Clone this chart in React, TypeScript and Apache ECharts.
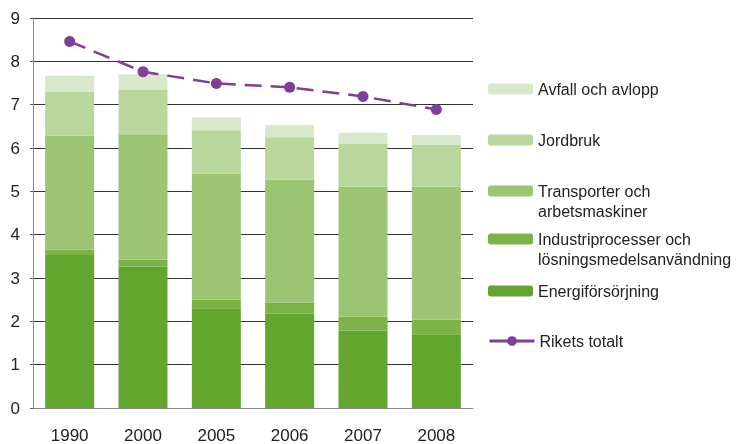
import React, { useEffect, useRef } from "react";
import * as echarts from "echarts";

const years = ["1990", "2000", "2005", "2006", "2007", "2008"];
const energi = [3.53, 3.26, 2.3, 2.18, 1.79, 1.7];
const industri = [0.12, 0.16, 0.2, 0.25, 0.32, 0.34];
const transport = [2.63, 2.9, 2.91, 2.84, 3.0, 3.07];
const jordbruk = [1.01, 1.02, 1.0, 0.98, 0.98, 0.96];
const avfall = [0.38, 0.36, 0.3, 0.28, 0.26, 0.23];
const totalt = [8.46, 7.76, 7.49, 7.4, 7.19, 6.89];

const names = {
  avfall: "Avfall och avlopp",
  jordbruk: "Jordbruk",
  transport: "Transporter och\narbetsmaskiner",
  industri: "Industriprocesser och\nlösningsmedelsanvändning",
  energi: "Energiförsörjning",
  totalt: "Rikets totalt",
};

const FONT = "'Liberation Sans', Arial, sans-serif";

export default function App() {
  const ref = useRef<HTMLDivElement>(null);
  useEffect(() => {
    if (!ref.current) return;
    const chart = echarts.init(ref.current, undefined, { renderer: "svg" });
    const bar = (name: string, data: number[], color: string) => ({
      type: "bar",
      name,
      stack: "s",
      data,
      barWidth: 49,
      itemStyle: { color },
    });
    const legendItem = (name: string, centerY: number, twoLine: boolean, extra: any = {}) => ({
      show: true,
      data: [name],
      left: 488,
      top: twoLine ? centerY - 30 : centerY - 10,
      padding: 0,
      itemWidth: 45,
      itemHeight: 11,
      itemGap: 0,
      selectedMode: false,
      formatter: twoLine ? (n: string) => "\n" + n : undefined,
      textStyle: {
        fontFamily: FONT,
        fontSize: 16,
        lineHeight: 20,
        color: "#222",
      },
      ...extra,
    });
    chart.setOption({
      animation: false,
      textStyle: { fontFamily: FONT },
      grid: { left: 33, right: 263, top: 18, bottom: 33, containLabel: false },
      legend: [
        legendItem(names.avfall, 89, false),
        legendItem(names.jordbruk, 140, false),
        legendItem(names.transport, 191, true),
        legendItem(names.industri, 239, true),
        legendItem(names.energi, 291, false),
        legendItem(names.totalt, 341, false, {
          itemHeight: 12,
          lineStyle: { type: "solid", width: 3 },
        }),
      ],
      xAxis: {
        type: "category",
        data: years,
        axisTick: { show: false },
        axisLine: { lineStyle: { color: "#888", width: 1 } },
        axisLabel: { fontSize: 17, color: "#222", margin: 19, fontFamily: FONT },
      },
      yAxis: {
        type: "value",
        min: 0,
        max: 9,
        interval: 1,
        axisLine: { show: true, lineStyle: { color: "#888", width: 1 } },
        axisTick: { show: true, length: 3, lineStyle: { color: "#555" } },
        splitLine: { lineStyle: { color: "#333", width: 1 } },
        axisLabel: { fontSize: 17, color: "#222", margin: 13, fontFamily: FONT },
      },
      series: [
        bar(names.energi, energi, "#63a62f"),
        bar(names.industri, industri, "#7db346"),
        bar(names.transport, transport, "#9bc473"),
        bar(names.jordbruk, jordbruk, "#b9d69b"),
        bar(names.avfall, avfall, "#d7e8cb"),
        {
          type: "line",
          name: names.totalt,
          data: totalt,
          symbol: "circle",
          symbolSize: 11,
          itemStyle: { color: "#7e3f98" },
          lineStyle: { color: "#7e3f98", width: 2.5, type: [17, 9] },
          z: 5,
        },
      ],
    });
    return () => chart.dispose();
  }, []);
  return (
    <div
      ref={ref}
      style={{ position: "fixed", left: 0, top: 0, width: 736, height: 444 }}
    />
  );
}
